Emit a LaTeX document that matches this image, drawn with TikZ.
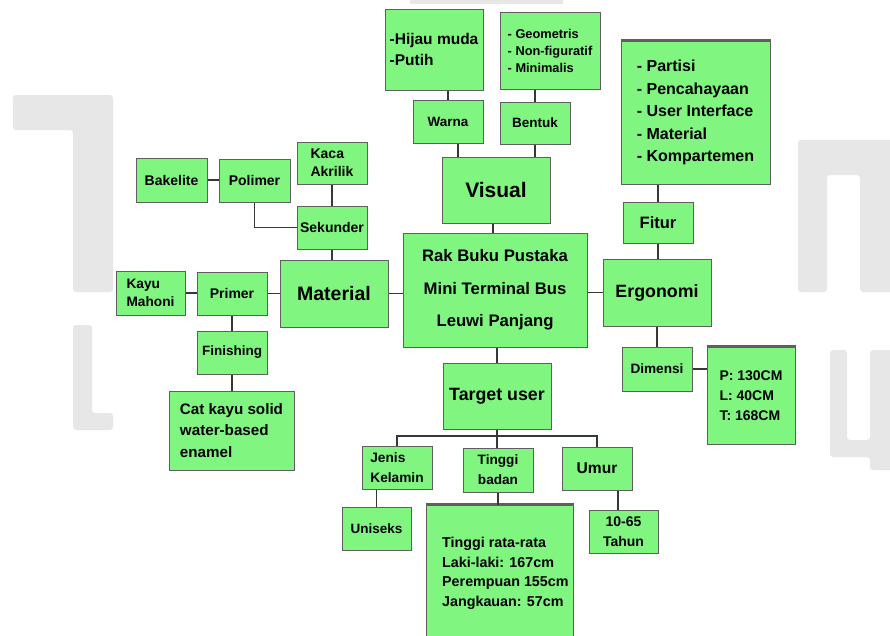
\documentclass[tikz,border=0pt]{standalone}
\usepackage{fontspec}
\setmainfont{Liberation Sans}
\definecolor{boxfill}{RGB}{128,245,128}
\definecolor{boxline}{RGB}{95,95,95}
\definecolor{conn}{RGB}{55,55,55}
\definecolor{wm}{RGB}{231,231,231}
\tikzset{
  box/.style={draw=boxline, line width=1pt, fill=boxfill, inner sep=0pt, font=\bfseries},
  link/.style={draw=conn, line width=1.4pt},
  topedge/.style={draw=boxline, line width=2.4pt},
  wmark/.style={fill=wm, draw=none, rounded corners=3pt},
}
\newcommand{\fs}[2]{\fontsize{#1}{#2}\selectfont\bfseries}
\newcommand{\gbox}[7]{\node[box, minimum width={(#4-#2)*1pt}, minimum height={(#5-#3)*1pt}, #6] (#1) at ({(#2+#4)/2},{(#3+#5)/2}) {#7};}
\begin{document}
\begin{tikzpicture}[x=1pt,y=-1pt]
\useasboundingbox (0,0) rectangle (890,635);
\clip (0,0) rectangle (890,635);
\fill[white] (0,0) rectangle (890,635);
% watermark
\fill[wmark] (13,95) -- (113,95) -- (113,292) -- (73,292) -- (73,130) -- (13,130) -- cycle;
\fill[wmark] (73,325) -- (92,325) -- (92,413) -- (113,413) -- (113,430) -- (73,430) -- cycle;
\fill[wmark] (798,292) -- (798,140) -- (900,140) -- (900,292) -- (860,292) -- (860,175) -- (827,175) -- (827,292) -- cycle;
\fill[wmark] (830,350) -- (847,350) -- (847,440) -- (870,440) -- (870,350) -- (900,350) -- (900,470) -- (870,470) -- (870,457) -- (830,457) -- cycle;
\fill[wm] (410,0) rectangle (563,4);
% boxes
\gbox{hijau}{385}{9}{483}{90}{font=\fs{15.5}{21}, align=left}{-Hijau muda\\-Putih}
\gbox{geom}{500}{12}{600}{89}{font=\fs{12.8}{17}, align=left}{- Geometris\\- Non-figuratif\\- Minimalis}
\gbox{warna}{413}{100}{483}{143}{font=\fs{13.5}{16}}{Warna}
\gbox{bentuk}{500}{102}{570}{144}{font=\fs{13.5}{16}}{Bentuk}
\gbox{visual}{442}{157}{550}{223}{font=\fs{21}{25}}{Visual}
\gbox{fitlist}{621}{41}{770}{184}{font=\fs{16}{22.5}, align=left}{- Partisi\\- Pencahayaan\\- User Interface\\- Material\\- Kompartemen}
\gbox{fitur}{623}{202}{693}{243}{font=\fs{16.5}{20}}{Fitur}
\gbox{kaca}{297}{142}{367}{184}{font=\fs{14}{18}, align=left}{Kaca\\Akrilik}
\gbox{bakelite}{136}{158}{207}{202}{font=\fs{14}{17}}{Bakelite}
\gbox{polimer}{219}{159}{290}{202}{font=\fs{14}{17}}{Polimer}
\gbox{sekunder}{297}{206}{367}{249}{font=\fs{14}{17}}{Sekunder}
\gbox{material}{280}{260}{388}{327}{font=\fs{19.5}{23}}{Material}
\gbox{kayu}{116}{271}{185}{315}{font=\fs{13.7}{18.5}, align=left}{Kayu\\Mahoni}
\gbox{primer}{197}{272}{267}{315}{font=\fs{14}{17}}{Primer}
\gbox{finishing}{197}{331}{267}{374}{font=\fs{13.5}{17}}{Finishing}
\gbox{cat}{169}{391}{294}{470}{font=\fs{15.2}{21.7}, align=left}{Cat kayu solid\\water-based\\enamel}
\gbox{main}{403}{233}{587}{347}{font=\fs{16.7}{32.5}, align=center}{Rak Buku Pustaka\\Mini Terminal Bus\\Leuwi Panjang}
\gbox{ergo}{603}{259}{711}{326}{font=\fs{17.8}{21}}{Ergonomi}
\gbox{dimensi}{622}{347}{692}{391}{font=\fs{13.6}{17}}{Dimensi}
\gbox{dim}{707}{347}{795}{444}{font=\fs{14}{20}, align=left}{P: 130CM\\L: 40CM\\T: 168CM}
\gbox{target}{443}{363}{551}{429}{font=\fs{17.8}{21}}{Target user}
\gbox{jenis}{362}{446}{432}{489}{font=\fs{13.7}{20}, align=left}{Jenis\\Kelamin}
\gbox{tinggi}{463}{448}{533}{492}{font=\fs{13.6}{20}, align=center}{Tinggi\\badan}
\gbox{umur}{562}{447}{632}{490}{font=\fs{15.6}{19}}{Umur}
\gbox{uniseks}{342}{507}{411}{550}{font=\fs{13.5}{17}}{Uniseks}
\gbox{avg}{426}{505}{573}{645}{}{}
\node[anchor=north west, font=\fs{14.3}{19.7}, align=left, inner sep=0pt] (avgtext) at (442,537) {Tinggi rata-rata\\Laki-laki: 167cm\\Perempuan 155cm\\Jangkauan: 57cm};
\gbox{umurv}{589}{510}{658}{553}{font=\fs{14}{20}, align=center}{10-65\\Tahun}
% darker top edges
\draw[topedge] (fitlist.north west) -- (fitlist.north east);
\draw[topedge] (dim.north west) -- (dim.north east);
\draw[topedge] (avg.north west) -- (avg.north east);
% connectors
\coordinate (vx1) at (458,0);
\coordinate (vx2) at (535,0);
\coordinate (vx3) at (493,0);
\coordinate (ux) at (618,0);
\coordinate (bus) at (0,436);
\draw[link] (warna.north |- hijau.south) -- (warna.north);
\draw[link] (bentuk.north |- geom.south) -- (bentuk.north);
\draw[link] (warna.south -| vx1) -- (visual.north -| vx1);
\draw[link] (bentuk.south -| vx2) -- (visual.north -| vx2);
\draw[link] (visual.south -| vx3) -- (main.north -| vx3);
\draw[link] (fitlist.south -| fitur) -- (fitur.north);
\draw[link] (fitur.south) -- (ergo.north -| fitur);
\draw[link] (main.east |- ergo) -- (ergo.west);
\draw[link] (main.west |- material) -- (material.east);
\draw[link] (ergo.south -| dimensi) -- (dimensi.north);
\draw[link] (dimensi.east) -- (dim.west |- dimensi);
\draw[link] (main.south -| target) -- (target.north);
\draw[link] (target.south) -- (target.south |- tinggi.north);
\draw[link] (jenis.north) |- (umur.north |- bus) -- (umur.north);
\draw[link] (jenis.south -| uniseks) -- (uniseks.north);
\draw[link] (tinggi.south) -- (avg.north -| tinggi);
\draw[link] (umur.south -| ux) -- (umurv.north -| ux);
\draw[link] (sekunder.south) -- (material.north -| sekunder);
\draw[link] (kaca.south) -- (sekunder.north);
\draw[link] (bakelite.east) -- (polimer.west |- bakelite);
\draw[link] (polimer.south) |- (sekunder.west);
\draw[link] (kayu.east) -- (primer.west |- kayu);
\draw[link] (primer.east) -- (material.west |- primer);
\draw[link] (primer.south) -- (finishing.north);
\draw[link] (finishing.south) -- (cat.north -| finishing);
\end{tikzpicture}
\end{document}
